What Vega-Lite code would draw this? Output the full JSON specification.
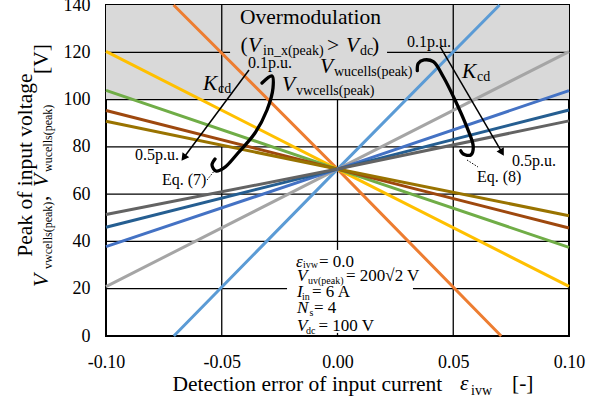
{
  "$schema": "https://vega.github.io/schema/vega-lite/v6.json",
  "width": 463,
  "height": 331,
  "autosize": {"type": "none"},
  "padding": {"left": 106, "top": 5, "right": 31, "bottom": 62},
  "background": "white",
  "config": {
    "view": {"stroke": "black", "strokeWidth": 2},
    "text": {"font": "Liberation Serif", "color": "black"}
  },
  "datasets": {
    "region": [{"x": -0.1, "x2": 0.1, "y": 100, "y2": 140}],
    "grid": [
      {"x": -0.05, "x2": -0.05, "y": 0, "y2": 80},
      {"x": -0.05, "x2": -0.05, "y": 102.8, "y2": 140},
      {"x": 0, "x2": 0, "y": 0, "y2": 1.3},
      {"x": 0, "x2": 0, "y": 36.4, "y2": 100},
      {"x": 0.05, "x2": 0.05, "y": 0, "y2": 140},
      {"x": -0.1, "x2": -0.0218, "y": 20, "y2": 20},
      {"x": 0.0326, "x2": 0.1, "y": 20, "y2": 20},
      {"x": -0.1, "x2": 0.1, "y": 40, "y2": 40},
      {"x": -0.1, "x2": 0.1, "y": 60, "y2": 60},
      {"x": -0.1, "x2": 0.1, "y": 80, "y2": 80},
      {"x": -0.1, "x2": 0.1, "y": 100, "y2": 100},
      {"x": -0.1, "x2": -0.0464, "y": 120, "y2": 120},
      {"x": 0.0214, "x2": 0.1, "y": 120, "y2": 120}
    ],
    "series": [
      {"s": "vw1", "x": -0.0708, "y": 140}, {"s": "vw1", "x": 0, "y": 70.6}, {"s": "vw1", "x": 0.0707, "y": 0},
      {"s": "vw2", "x": -0.1, "y": 120.4}, {"s": "vw2", "x": 0, "y": 70.6}, {"s": "vw2", "x": 0.1, "y": 21.0},
      {"s": "vw3", "x": -0.1, "y": 103.9}, {"s": "vw3", "x": 0, "y": 70.6}, {"s": "vw3", "x": 0.1, "y": 37.5},
      {"s": "vw4", "x": -0.1, "y": 95.4}, {"s": "vw4", "x": 0, "y": 70.6}, {"s": "vw4", "x": 0.1, "y": 45.7},
      {"s": "vw5", "x": -0.1, "y": 90.8}, {"s": "vw5", "x": 0, "y": 70.6}, {"s": "vw5", "x": 0.1, "y": 50.9},
      {"s": "wu1", "x": -0.0707, "y": 0}, {"s": "wu1", "x": 0, "y": 70.6}, {"s": "wu1", "x": 0.0700, "y": 140},
      {"s": "wu2", "x": -0.1, "y": 20.9}, {"s": "wu2", "x": 0, "y": 70.6}, {"s": "wu2", "x": 0.1, "y": 120.3},
      {"s": "wu3", "x": -0.1, "y": 37.8}, {"s": "wu3", "x": 0, "y": 70.6}, {"s": "wu3", "x": 0.1, "y": 103.8},
      {"s": "wu4", "x": -0.1, "y": 46.0}, {"s": "wu4", "x": 0, "y": 70.6}, {"s": "wu4", "x": 0.1, "y": 95.6},
      {"s": "wu5", "x": -0.1, "y": 51.4}, {"s": "wu5", "x": 0, "y": 70.6}, {"s": "wu5", "x": 0.1, "y": 91.0}
    ],
    "arcs": [
      {"id": "L", "i": 1, "x": -0.03261, "y": 107.01},
      {"id": "L", "i": 2, "x": -0.02829, "y": 109.97},
      {"id": "L", "i": 3, "x": -0.02786, "y": 104.89},
      {"id": "L", "i": 4, "x": -0.03045, "y": 95.59},
      {"id": "L", "i": 5, "x": -0.03564, "y": 85.86},
      {"id": "L", "i": 6, "x": -0.04298, "y": 77.40},
      {"id": "L", "i": 7, "x": -0.04903, "y": 71.06},
      {"id": "L", "i": 8, "x": -0.05248, "y": 69.79},
      {"id": "L", "i": 9, "x": -0.05421, "y": 72.33},
      {"id": "L", "i": 10, "x": -0.05292, "y": 74.87},
      {"id": "R", "i": 1, "x": 0.03447, "y": 112.21},
      {"id": "R", "i": 2, "x": 0.03490, "y": 115.34},
      {"id": "R", "i": 3, "x": 0.03737, "y": 116.74},
      {"id": "R", "i": 4, "x": 0.04139, "y": 116.02},
      {"id": "R", "i": 5, "x": 0.04570, "y": 109.67},
      {"id": "R", "i": 6, "x": 0.05076, "y": 99.82},
      {"id": "R", "i": 7, "x": 0.05581, "y": 88.53},
      {"id": "R", "i": 8, "x": 0.05866, "y": 80.07},
      {"id": "R", "i": 9, "x": 0.05754, "y": 76.56},
      {"id": "R", "i": 10, "x": 0.05434, "y": 76.98},
      {"id": "R", "i": 11, "x": 0.05322, "y": 78.37}
    ],
    "leaders": [
      {"x": -0.05637, "y": 65.98, "x2": -0.05292, "y2": 70.21},
      {"x": 0.05594, "y": 74.44, "x2": 0.06069, "y2": 71.48}
    ],
    "arrows": [
      {"x": -0.03823, "y": 112.51, "x2": -0.06613, "y2": 75.79},
      {"x": 0.0443, "y": 122.36, "x2": 0.0708, "y2": 78.04}
    ],
    "tItalic": [
      {"t": "V", "x": -0.03866, "y": 120.33},
      {"t": "V", "x": 0.00367, "y": 120.33},
      {"t": "K", "x": -0.0581, "y": 104.05},
      {"t": "V", "x": -0.02397, "y": 103.63},
      {"t": "V", "x": -0.00756, "y": 111.24},
      {"t": "K", "x": 0.05378, "y": 109.12},
      {"t": "ε", "x": 0.05292, "y": -22.84}
    ],
    "tNormal": [
      {"t": "Overmodulation", "x": -0.04212, "y": 131.96},
      {"t": "(", "x": -0.04194, "y": 120.33},
      {"t": ">", "x": -0.00453, "y": 120.33},
      {"t": ")", "x": 0.0149, "y": 120.33},
      {"t": "[-]", "x": 0.07538, "y": -22.84}
    ],
    "tSub": [
      {"t": "in_x(peak)", "x": -0.03218, "y": 118.85},
      {"t": "dc", "x": 0.00972, "y": 118.85},
      {"t": "cd", "x": -0.05162, "y": 102.78},
      {"t": "vwcells(peak)", "x": -0.01793, "y": 101.93},
      {"t": "wucells(peak)", "x": -0.00151, "y": 109.97},
      {"t": "cd", "x": 0.06026, "y": 107.86},
      {"t": "ivw", "x": 0.05767, "y": -24.95}
    ],
    "tLabel": [
      {"t": "0.1p.u.", "x": -0.03866, "y": 113.35},
      {"t": "0.5p.u.", "x": -0.08747, "y": 74.44},
      {"t": "0.1p.u.", "x": 0.03002, "y": 122.24},
      {"t": "0.5p.u.", "x": 0.07538, "y": 71.9},
      {"t": "Eq. (7)", "x": -0.07581, "y": 63.87},
      {"t": "Eq. (8)", "x": 0.06026, "y": 65.14}
    ],
    "pNormal": [
      {"t": "= 0.0", "x": -0.0080, "y": 29.31},
      {"t": "= 200√2 V", "x": 0.00367, "y": 23.39},
      {"t": "= 6 A", "x": -0.01101, "y": 16.62},
      {"t": "= 4", "x": -0.01015, "y": 9.6},
      {"t": "= 100 V", "x": -0.0082, "y": 2.24}
    ],
    "pItalic": [
      {"t": "ε", "x": -0.01793, "y": 29.31},
      {"t": "V", "x": -0.0175, "y": 23.39},
      {"t": "I", "x": -0.0175, "y": 16.62},
      {"t": "N", "x": -0.0175, "y": 9.6},
      {"t": "V", "x": -0.0175, "y": 2.24}
    ],
    "pSub": [
      {"t": "ivw", "x": -0.0149, "y": 28.55},
      {"t": "uv(peak)", "x": -0.01274, "y": 22.2},
      {"t": "in", "x": -0.01533, "y": 15.23},
      {"t": "s", "x": -0.0121, "y": 8.46},
      {"t": "dc", "x": -0.0136, "y": 0.85}
    ],
    "yItalic": [
      {"t": "V", "x": -0.12484, "y": 20.73},
      {"t": "V", "x": -0.12484, "y": 63.02}
    ],
    "yNormal": [
      {"t": ",", "x": -0.12484, "y": 57.1},
      {"t": "[V]", "x": -0.12484, "y": 110.82}
    ],
    "ySub": [
      {"t": "vwcells(peak)", "x": -0.12333, "y": 28.34},
      {"t": "wucells(peak)", "x": -0.12333, "y": 69.37}
    ]
  },
  "encoding": {
    "x": {
      "field": "x", "type": "quantitative",
      "scale": {"domain": [-0.1, 0.1], "nice": false, "zero": false},
      "axis": {
        "title": "Detection error of input current",
        "values": [-0.1, -0.05, 0, 0.05, 0.1],
        "labelExpr": "datum.value < 0 ? '-' + format(-datum.value, '.2f') : format(datum.value, '.2f')",
        "grid": false, "ticks": false, "tickSize": 0, "domain": false,
        "labelFont": "Liberation Serif", "labelFontSize": 18, "labelColor": "black",
        "labelPadding": 31, "labelBaseline": "alphabetic", "labelFlush": false, "labelOverlap": false,
        "titleFont": "Liberation Serif", "titleFontSize": 21.5, "titleFontWeight": "normal", "titleColor": "black",
        "titleX": 66, "titleY": 54, "titleAlign": "left", "titleBaseline": "alphabetic"
      }
    },
    "y": {
      "field": "y", "type": "quantitative",
      "scale": {"domain": [0, 140], "nice": false, "zero": false},
      "axis": {
        "title": "Peak of input voltage",
        "values": [0, 20, 40, 60, 80, 100, 120, 140],
        "grid": false, "ticks": false, "tickSize": 0, "domain": false,
        "labelFont": "Liberation Serif", "labelFontSize": 18, "labelColor": "black",
        "labelPadding": 16, "labelFlush": false, "labelOverlap": false,
        "titleFont": "Liberation Serif", "titleFontSize": 21.5, "titleFontWeight": "normal", "titleColor": "black",
        "titleX": -75, "titleY": 159.5, "titleAngle": 270, "titleAlign": "center", "titleBaseline": "alphabetic"
      }
    }
  },
  "layer": [
    {"data": {"name": "region"}, "mark": {"type": "rect", "fill": "#D9D9D9"},
     "encoding": {"x2": {"field": "x2"}, "y2": {"field": "y2"}}},
    {"data": {"name": "grid"}, "mark": {"type": "rule", "color": "black", "strokeWidth": 1.3},
     "encoding": {"x2": {"field": "x2"}, "y2": {"field": "y2"}}},
    {"data": {"name": "series"}, "mark": {"type": "line", "strokeWidth": 3},
     "encoding": {
       "color": {"field": "s", "type": "nominal", "legend": null,
         "scale": {"domain": ["vw1", "vw2", "vw3", "vw4", "vw5", "wu1", "wu2", "wu3", "wu4", "wu5"],
                   "range": ["#ED7D31", "#FFC000", "#70AD47", "#9E480E", "#997300", "#5B9BD5", "#A5A5A5", "#4472C4", "#255E91", "#636363"]}}
     }},
    {"data": {"name": "arcs"}, "mark": {"type": "line", "color": "black", "strokeWidth": 3.3, "interpolate": "catmull-rom", "strokeCap": "round"},
     "encoding": {"detail": {"field": "id"}, "order": {"field": "i", "type": "quantitative"}}},
    {"data": {"name": "leaders"}, "mark": {"type": "rule", "color": "black", "strokeWidth": 1, "strokeDash": [1.5, 1.5]},
     "encoding": {"x2": {"field": "x2"}, "y2": {"field": "y2"}}},
    {"data": {"name": "arrows"}, "mark": {"type": "rule", "color": "black", "strokeWidth": 1.5},
     "encoding": {"x2": {"field": "x2"}, "y2": {"field": "y2"}}},
    {"data": {"values": [{"x": -0.06613, "y": 75.79}]},
     "mark": {"type": "point", "shape": "triangle", "filled": true, "color": "black", "opacity": 1, "size": 70, "angle": 216.7}},
    {"data": {"values": [{"x": 0.0708, "y": 78.04}]},
     "mark": {"type": "point", "shape": "triangle", "filled": true, "color": "black", "opacity": 1, "size": 70, "angle": 149.7}},
    {"data": {"name": "tItalic"}, "mark": {"type": "text", "font": "Liberation Serif", "fontSize": 21.5, "fontStyle": "italic", "align": "left", "baseline": "alphabetic", "color": "black"},
     "encoding": {"text": {"field": "t"}}},
    {"data": {"name": "tNormal"}, "mark": {"type": "text", "font": "Liberation Serif", "fontSize": 21.5, "align": "left", "baseline": "alphabetic", "color": "black"},
     "encoding": {"text": {"field": "t"}}},
    {"data": {"name": "tSub"}, "mark": {"type": "text", "font": "Liberation Serif", "fontSize": 14, "align": "left", "baseline": "alphabetic", "color": "black"},
     "encoding": {"text": {"field": "t"}}},
    {"data": {"name": "tLabel"}, "mark": {"type": "text", "font": "Liberation Serif", "fontSize": 16, "align": "left", "baseline": "alphabetic", "color": "black"},
     "encoding": {"text": {"field": "t"}}},
    {"data": {"name": "pNormal"}, "mark": {"type": "text", "font": "Liberation Serif", "fontSize": 17, "align": "left", "baseline": "alphabetic", "color": "black"},
     "encoding": {"text": {"field": "t"}}},
    {"data": {"name": "pItalic"}, "mark": {"type": "text", "font": "Liberation Serif", "fontSize": 17, "fontStyle": "italic", "align": "left", "baseline": "alphabetic", "color": "black"},
     "encoding": {"text": {"field": "t"}}},
    {"data": {"name": "pSub"}, "mark": {"type": "text", "font": "Liberation Serif", "fontSize": 10, "align": "left", "baseline": "alphabetic", "color": "black"},
     "encoding": {"text": {"field": "t"}}},
    {"data": {"name": "yItalic"}, "mark": {"type": "text", "font": "Liberation Serif", "fontSize": 21.5, "fontStyle": "italic", "align": "left", "baseline": "alphabetic", "angle": 270, "color": "black"},
     "encoding": {"text": {"field": "t"}}},
    {"data": {"name": "yNormal"}, "mark": {"type": "text", "font": "Liberation Serif", "fontSize": 21.5, "align": "left", "baseline": "alphabetic", "angle": 270, "color": "black"},
     "encoding": {"text": {"field": "t"}}},
    {"data": {"name": "ySub"}, "mark": {"type": "text", "font": "Liberation Serif", "fontSize": 12, "align": "left", "baseline": "alphabetic", "angle": 270, "color": "black"},
     "encoding": {"text": {"field": "t"}}}
  ]
}
